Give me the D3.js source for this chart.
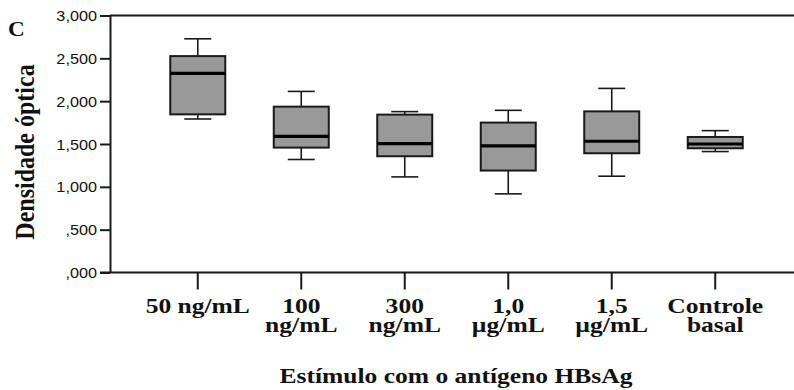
<!DOCTYPE html>
<html>
<head>
<meta charset="utf-8">
<script src="https://cdn.jsdelivr.net/npm/d3@7"></script>
<style>
  html, body { margin: 0; padding: 0; background: #fff; }
  svg { display: block; }
</style>
</head>
<body>
<svg id="chart" width="794" height="390"></svg>
<script>
// Optical density after stimulation with HBsAg, per concentration
const categories = [
  ["50 ng/mL"],
  ["100", "ng/mL"],
  ["300", "ng/mL"],
  ["1,0", "µg/mL"],
  ["1,5", "µg/mL"],
  ["Controle", "basal"]
];
const whiskerLow  = [1792, 1319, 1116,  918, 1124, 1412];
const q1          = [1846, 1458, 1357, 1190, 1392, 1450];
const median      = [2324, 1590, 1505, 1477, 1532, 1500];
const q3          = [2526, 1936, 1843, 1750, 1881, 1582];
const whiskerHigh = [2728, 2114, 1878, 1893, 2149, 1656];
const yTicks = [0, 500, 1000, 1500, 2000, 2500, 3000];

const svg = d3.select("#chart");
const plot = { left: 110, right: 803, top: 15.5, bottom: 272.5 };
const stretch = 1.16;           // glyphs are set slightly wide
const serif = "'Liberation Serif', 'Times New Roman', serif";
const sans = "'Liberation Sans', Arial, sans-serif";

const keys = categories.map(c => c.join(" "));
const x = d3.scaleBand()
  .domain(keys)
  .range([plot.left, plot.right])
  .paddingInner(0)
  .paddingOuter(0.348);
const y = d3.scaleLinear().domain([0, 3000]).range([plot.bottom, plot.top]);

const fmt = v => {
  const s = d3.format(",.3f")(v / 1000);
  // 1.500 -> 1,500 ; 0.500 -> ,500
  return s.replace(/^0/, "").replace(".", ",");
};

// Frame top line
svg.append("line")
  .attr("x1", plot.left).attr("x2", plot.right)
  .attr("y1", plot.top).attr("y2", plot.top)
  .attr("stroke", "#1a1a1a").attr("stroke-width", 2);

// Y axis
const yAxis = svg.append("g")
  .attr("transform", `translate(${plot.left},0)`)
  .call(d3.axisLeft(y).tickValues(yTicks).tickFormat(fmt).tickSize(10).tickSizeOuter(0));
yAxis.select(".domain").attr("stroke", "#1a1a1a").attr("stroke-width", 2);
yAxis.selectAll(".tick line").attr("stroke", "#1a1a1a").attr("stroke-width", 2);
yAxis.selectAll(".tick text")
  .attr("x", null)
  .attr("dy", null)
  .attr("transform", `translate(-13,5) scale(${stretch},1)`)
  .attr("font-family", sans)
  .attr("font-size", 14)
  .attr("fill", "#111");

// X axis
const xAxis = svg.append("g")
  .attr("transform", `translate(0,${plot.bottom})`)
  .call(d3.axisBottom(x).tickSize(17).tickSizeOuter(0).tickFormat(() => ""));
xAxis.select(".domain").attr("stroke", "#1a1a1a").attr("stroke-width", 2)
  .attr("d", `M${plot.left - 10},0H${plot.right}`);
xAxis.selectAll(".tick line").attr("stroke", "#1a1a1a").attr("stroke-width", 2);

// Multi-line category labels
const labels = svg.append("g")
  .attr("font-family", serif)
  .attr("font-weight", "bold")
  .attr("font-size", 22)
  .attr("fill", "#111")
  .attr("text-anchor", "middle");
categories.forEach((lines, i) => {
  const cx = x(keys[i]) + x.bandwidth() / 2;
  const t = labels.append("text")
    .attr("transform", `translate(${cx},313) scale(${stretch},1)`);
  lines.forEach((ln, j) => {
    t.append("tspan").attr("x", 0).attr("y", j * 18.5).text(ln);
  });
});

// Boxes
const boxW = 55, capW = 27;
const boxes = svg.append("g");
keys.forEach((k, i) => {
  const cx = x(k) + x.bandwidth() / 2;
  const g = boxes.append("g");
  // whiskers
  g.append("line").attr("x1", cx).attr("x2", cx)
    .attr("y1", y(whiskerHigh[i])).attr("y2", y(q3[i]))
    .attr("stroke", "#1a1a1a").attr("stroke-width", 1.6);
  g.append("line").attr("x1", cx).attr("x2", cx)
    .attr("y1", y(q1[i])).attr("y2", y(whiskerLow[i]))
    .attr("stroke", "#1a1a1a").attr("stroke-width", 1.6);
  [whiskerHigh[i], whiskerLow[i]].forEach(v => {
    g.append("line").attr("x1", cx - capW / 2).attr("x2", cx + capW / 2)
      .attr("y1", y(v)).attr("y2", y(v))
      .attr("stroke", "#1a1a1a").attr("stroke-width", 1.6);
  });
  // box
  g.append("rect")
    .attr("x", cx - boxW / 2).attr("width", boxW)
    .attr("y", y(q3[i])).attr("height", y(q1[i]) - y(q3[i]))
    .attr("fill", "#999999").attr("stroke", "#1a1a1a").attr("stroke-width", 2);
  // median
  g.append("line").attr("x1", cx - boxW / 2).attr("x2", cx + boxW / 2)
    .attr("y1", y(median[i])).attr("y2", y(median[i]))
    .attr("stroke", "#000").attr("stroke-width", 3.2);
});

// Titles
svg.append("text")
  .attr("transform", `translate(456,383) scale(${stretch},1)`)
  .attr("text-anchor", "middle")
  .attr("font-family", serif)
  .attr("font-weight", "bold").attr("font-size", 22).attr("fill", "#111")
  .text("Estímulo com o antígeno HBsAg");

svg.append("text")
  .attr("transform", `translate(34,152) scale(${stretch},1) rotate(-90)`)
  .attr("text-anchor", "middle")
  .attr("font-family", serif)
  .attr("font-weight", "bold").attr("font-size", 24).attr("fill", "#111")
  .text("Densidade óptica");

svg.append("text")
  .attr("transform", `translate(8,36) scale(${stretch},1)`)
  .attr("font-family", serif)
  .attr("font-weight", "bold").attr("font-size", 20).attr("fill", "#111")
  .text("C");
</script>
</body>
</html>
